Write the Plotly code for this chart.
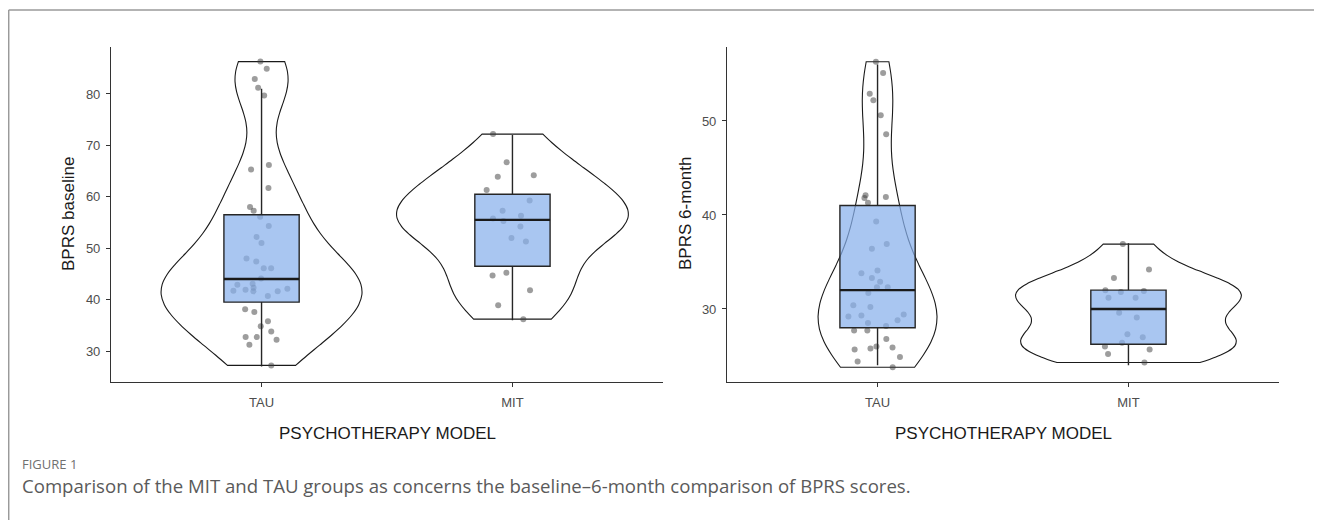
import numpy as np
import plotly.graph_objects as go

# The page body has an 8px margin, so the figure is drawn 8px in from the window corner.
OFF = 8
W, H = 1322 - OFF, 520 - OFF

groups = ["TAU", "MIT"]

# BPRS baseline scores
tau_baseline = [86.3, 84.9, 82.9, 81.2, 79.7, 66.2, 65.3, 61.7, 58.0, 57.3, 56.1, 54.3,
                52.2, 51.0, 48.0, 47.4, 46.1, 46.1, 44.1, 43.1, 42.9, 42.3, 42.1, 41.7,
                41.6, 41.6, 41.9, 40.7, 38.1, 37.6, 35.8, 34.8, 33.8, 32.7, 32.7, 32.2,
                31.2, 27.2]
mit_baseline = [72.2, 66.7, 64.2, 63.9, 61.3, 59.3, 57.3, 55.8, 56.3, 55.3, 54.2, 52.0,
                51.3, 44.7, 45.2, 41.8, 38.9, 36.2]

# BPRS 6-month scores
tau_6month = [56.3, 55.1, 52.2, 52.9, 50.6, 48.6, 42.1, 41.8, 41.9, 41.3, 39.3, 36.9,
              36.4, 34.1, 33.8, 33.3, 32.9, 32.3, 32.3, 31.7, 30.2, 30.4, 29.3, 29.2,
              29.4, 28.8, 28.5, 28.2, 27.7, 27.7, 26.8, 26.0, 25.9, 25.7, 25.8, 24.9,
              24.4, 23.8]
mit_6month = [36.9, 34.2, 33.3, 32.0, 31.9, 31.8, 31.2, 31.2, 29.6, 29.1, 27.0, 27.3,
              26.0, 26.4, 25.7, 25.2, 24.3]

# Box-plot statistics (TAU, MIT)
base_q1 = [39.5, 46.5]
base_median = [44.0, 55.5]
base_q3 = [56.5, 60.5]
base_lower = [27.0, 36.0]
base_upper = [81.0, 72.0]

m6_q1 = [28.0, 26.25]
m6_median = [32.0, 30.0]
m6_q3 = [41.0, 32.0]
m6_lower = [24.0, 24.0]
m6_upper = [56.0, 37.0]

base_ticks = [30, 40, 50, 60, 70, 80]
m6_ticks = [30, 40, 50]

FONT = "Liberation Sans, Arial, sans-serif"
BOX_FILL = "rgba(136,176,235,0.72)"
PT_COLOR = "rgba(60,60,60,0.5)"


def bw_nrd0(vals):
    v = np.asarray(vals, dtype=float)
    sd = v.std(ddof=1)
    iqr = np.subtract(*np.percentile(v, [75, 25]))
    return 0.9 * min(sd, iqr / 1.34) * len(v) ** (-0.2)


fig = go.Figure()

panels = [
    ("x", "y", [tau_baseline, mit_baseline], [0.8, 0.92],
     (base_q1, base_median, base_q3, base_lower, base_upper)),
    ("x2", "y2", [tau_6month, mit_6month], [0.474, 0.9],
     (m6_q1, m6_median, m6_q3, m6_lower, m6_upper)),
]

# violins (outline only)
for xa, ya, data, widths, stats in panels:
    for g, vals, w in zip(groups, data, widths):
        fig.add_trace(go.Violin(
            x=[g] * len(vals), y=vals, xaxis=xa, yaxis=ya,
            spanmode="hard", bandwidth=bw_nrd0(vals), width=w,
            scalemode="width", points=False, box_visible=False,
            meanline_visible=False, fillcolor="rgba(0,0,0,0)",
            line=dict(color="#1a1a1a", width=1.1), hoverinfo="skip",
            showlegend=False))

# jittered points (invisible box, points only)
for xa, ya, data, widths, stats in panels:
    for g, vals in zip(groups, data):
        fig.add_trace(go.Box(
            x=[g] * len(vals), y=vals, xaxis=xa, yaxis=ya,
            boxpoints="all", jitter=0.85, pointpos=0, width=0.3,
            fillcolor="rgba(0,0,0,0)", line=dict(width=0, color="rgba(0,0,0,0)"),
            whiskerwidth=0,
            marker=dict(size=6, color=PT_COLOR, line=dict(width=0)),
            showlegend=False))

# boxes on top
for xa, ya, data, widths, stats in panels:
    q1, med, q3, lo, up = stats
    fig.add_trace(go.Box(
        x=groups, q1=q1, median=med, q3=q3, lowerfence=lo, upperfence=up,
        xaxis=xa, yaxis=ya, width=0.3, whiskerwidth=0, boxpoints=False,
        fillcolor=BOX_FILL, line=dict(color="#262626", width=1.4),
        showlegend=False))
    # thicker median bar (ggplot's fatten)
    fig.add_trace(go.Box(
        x=groups, q1=med, median=med, q3=med, lowerfence=med, upperfence=med,
        xaxis=xa, yaxis=ya, width=0.3, whiskerwidth=0, boxpoints=False,
        fillcolor="rgba(0,0,0,0)", line=dict(color="#1a1a1a", width=2.4),
        hoverinfo="skip", showlegend=False))

axis_common = dict(showline=True, linecolor="#333333", linewidth=1.1,
                   ticks="outside", ticklen=4, tickcolor="#333333", tickwidth=1,
                   showgrid=False, zeroline=False,
                   tickfont=dict(family=FONT, size=13, color="#4d4d4d"))


def px_x(p):
    return (p - OFF) / W


def px_y(p):
    return 1 - (p - OFF) / H


fig.update_layout(
    width=W, height=H, margin=dict(l=0, r=0, t=0, b=0),
    paper_bgcolor="white", plot_bgcolor="white", showlegend=False,
    violinmode="overlay", boxmode="overlay",
    xaxis=dict(domain=[px_x(111), px_x(663)], type="category",
               categoryorder="array", categoryarray=groups,
               range=[-0.6, 1.6], anchor="y", ticklabelstandoff=4, **axis_common),
    yaxis=dict(domain=[px_y(382), px_y(47)], range=[23.97, 89.14],
               tickvals=base_ticks, anchor="x", ticklabelstandoff=3, **axis_common),
    xaxis2=dict(domain=[px_x(727), px_x(1279)], type="category",
                categoryorder="array", categoryarray=groups,
                range=[-0.6, 1.6], anchor="y2", ticklabelstandoff=4, **axis_common),
    yaxis2=dict(domain=[px_y(382), px_y(47)], range=[22.23, 57.87],
                tickvals=m6_ticks, anchor="x2", ticklabelstandoff=3, **axis_common),
)

ann = [
    dict(text="PSYCHOTHERAPY MODEL", x=px_x(387), y=px_y(433), size=17,
         color="#1a1a1a", family=FONT, angle=0, xanchor="center"),
    dict(text="PSYCHOTHERAPY MODEL", x=px_x(1003), y=px_y(433), size=17,
         color="#1a1a1a", family=FONT, angle=0, xanchor="center"),
    dict(text="BPRS baseline", x=px_x(68), y=px_y(214), size=17,
         color="#1a1a1a", family=FONT, angle=-90, xanchor="center"),
    dict(text="BPRS 6-month", x=px_x(685), y=px_y(214), size=17,
         color="#1a1a1a", family=FONT, angle=-90, xanchor="center"),
    dict(text="FIGURE 1", x=px_x(20), y=px_y(464), size=13,
         color="#707070", family="Open Sans, sans-serif", angle=0, xanchor="left"),
    dict(text="Comparison of the MIT and TAU groups as concerns the baseline\u20136-month comparison of BPRS scores.",
         x=px_x(20), y=px_y(485), size=18.6, color="#5a5a5a",
         family="Open Sans, sans-serif", angle=0, xanchor="left"),
]
for a in ann:
    fig.add_annotation(text=a["text"], x=a["x"], y=a["y"], xref="paper", yref="paper",
                       xanchor=a["xanchor"], yanchor="middle", showarrow=False,
                       textangle=a["angle"],
                       font=dict(family=a["family"], size=a["size"], color=a["color"]))

# figure frame (top and left rules)
fig.add_shape(type="line", xref="paper", yref="paper", x0=px_x(8.7), x1=1,
              y0=px_y(10), y1=px_y(10), line=dict(color="#9a9a9a", width=1.5))
fig.add_shape(type="line", xref="paper", yref="paper", x0=px_x(8.7), x1=px_x(8.7),
              y0=px_y(10), y1=0, line=dict(color="#9a9a9a", width=1.5))

fig.write_html("out.html")
